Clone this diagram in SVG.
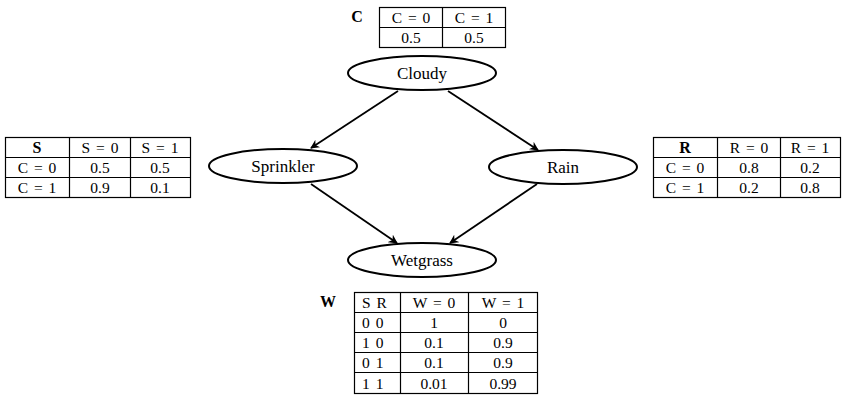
<svg xmlns="http://www.w3.org/2000/svg" width="850" height="400" viewBox="0 0 850 400">
<defs>
<marker id="arr" viewBox="0 0 10 10" refX="9" refY="5" markerWidth="9" markerHeight="9" markerUnits="userSpaceOnUse" orient="auto">
<path d="M0,0 L10,5 L0,10 L3,5 Z" fill="#000"/>
</marker>
<style>
text{font-family:"Liberation Serif","DejaVu Serif",serif;fill:#000;text-anchor:middle}
.t{font-size:15.5px;word-spacing:2px}
.l{text-anchor:start}
.n{font-size:17px}
.b{font-weight:bold;font-size:16px}
.node{fill:#fff;stroke:#000;stroke-width:2}
.grid{fill:none;stroke:#000;stroke-width:1.2}
.edge{stroke:#000;stroke-width:1.8;fill:none;marker-end:url(#arr)}
</style>
</defs>
<rect width="850" height="400" fill="#fff"/>
<g id="connectors">
<line class="edge" x1="398" y1="91" x2="311" y2="148"/>
<line class="edge" x1="448" y1="91" x2="538" y2="150"/>
<line class="edge" x1="311" y1="184" x2="397" y2="243"/>
<line class="edge" x1="537" y1="184" x2="450" y2="243"/>
</g>
<g id="cloudy"><ellipse class="node" cx="422" cy="73" rx="74" ry="17"/><text class="n" x="422" y="79">Cloudy</text></g>
<g id="sprinkler"><ellipse class="node" cx="283" cy="166" rx="74" ry="17"/><text class="n" x="283" y="172">Sprinkler</text></g>
<g id="rain"><ellipse class="node" cx="563" cy="167" rx="74" ry="17"/><text class="n" x="563" y="173">Rain</text></g>
<g id="wetgrass"><ellipse class="node" cx="422" cy="260" rx="74" ry="17"/><text class="n" x="422" y="266">Wetgrass</text></g>
<g id="tableC">
<text class="b" x="357" y="22">C</text>
<rect class="grid" x="379.5" y="7.5" width="126" height="40"/>
<line class="grid" x1="442.5" y1="7.5" x2="442.5" y2="47.5"/>
<line class="grid" x1="379.5" y1="27.5" x2="505.5" y2="27.5"/>
<text class="t" x="411" y="23">C = 0</text><text class="t" x="474" y="23">C = 1</text>
<text class="t" x="411" y="43">0.5</text><text class="t" x="474" y="43">0.5</text>
</g>
<g id="tableS">
<rect class="grid" x="5.5" y="137.5" width="185" height="60"/>
<line class="grid" x1="69.5" y1="137.5" x2="69.5" y2="197.5"/>
<line class="grid" x1="130.5" y1="137.5" x2="130.5" y2="197.5"/>
<line class="grid" x1="5.5" y1="157.5" x2="190.5" y2="157.5"/>
<line class="grid" x1="5.5" y1="177.5" x2="190.5" y2="177.5"/>
<text class="b" x="37" y="153">S</text><text class="t" x="100" y="153">S = 0</text><text class="t" x="160" y="153">S = 1</text>
<text class="t" x="37" y="173">C = 0</text><text class="t" x="100" y="173">0.5</text><text class="t" x="160" y="173">0.5</text>
<text class="t" x="37" y="193">C = 1</text><text class="t" x="100" y="193">0.9</text><text class="t" x="160" y="193">0.1</text>
</g>
<g id="tableR">
<rect class="grid" x="653.5" y="137.5" width="187" height="60"/>
<line class="grid" x1="717.5" y1="137.5" x2="717.5" y2="197.5"/>
<line class="grid" x1="780.5" y1="137.5" x2="780.5" y2="197.5"/>
<line class="grid" x1="653.5" y1="157.5" x2="840.5" y2="157.5"/>
<line class="grid" x1="653.5" y1="177.5" x2="840.5" y2="177.5"/>
<text class="b" x="685" y="153">R</text><text class="t" x="749" y="153">R = 0</text><text class="t" x="810" y="153">R = 1</text>
<text class="t" x="685" y="173">C = 0</text><text class="t" x="749" y="173">0.8</text><text class="t" x="810" y="173">0.2</text>
<text class="t" x="685" y="193">C = 1</text><text class="t" x="749" y="193">0.2</text><text class="t" x="810" y="193">0.8</text>
</g>
<g id="tableW">
<text class="b" x="328" y="307">W</text>
<rect class="grid" x="354.5" y="292.5" width="183" height="101"/>
<line class="grid" x1="400.5" y1="292.5" x2="400.5" y2="393.5"/>
<line class="grid" x1="468.5" y1="292.5" x2="468.5" y2="393.5"/>
<line class="grid" x1="354.5" y1="312.5" x2="537.5" y2="312.5"/>
<line class="grid" x1="354.5" y1="332.5" x2="537.5" y2="332.5"/>
<line class="grid" x1="354.5" y1="352.5" x2="537.5" y2="352.5"/>
<line class="grid" x1="354.5" y1="372.5" x2="537.5" y2="372.5"/>
<text class="t l" x="362" y="308">S R</text><text class="t" x="434" y="308">W = 0</text><text class="t" x="503" y="308">W = 1</text>
<text class="t l" x="362" y="328">0 0</text><text class="t" x="434" y="328">1</text><text class="t" x="503" y="328">0</text>
<text class="t l" x="362" y="348">1 0</text><text class="t" x="434" y="348">0.1</text><text class="t" x="503" y="348">0.9</text>
<text class="t l" x="362" y="368">0 1</text><text class="t" x="434" y="368">0.1</text><text class="t" x="503" y="368">0.9</text>
<text class="t l" x="362" y="389">1 1</text><text class="t" x="434" y="389">0.01</text><text class="t" x="503" y="389">0.99</text>
</g>
</svg>
